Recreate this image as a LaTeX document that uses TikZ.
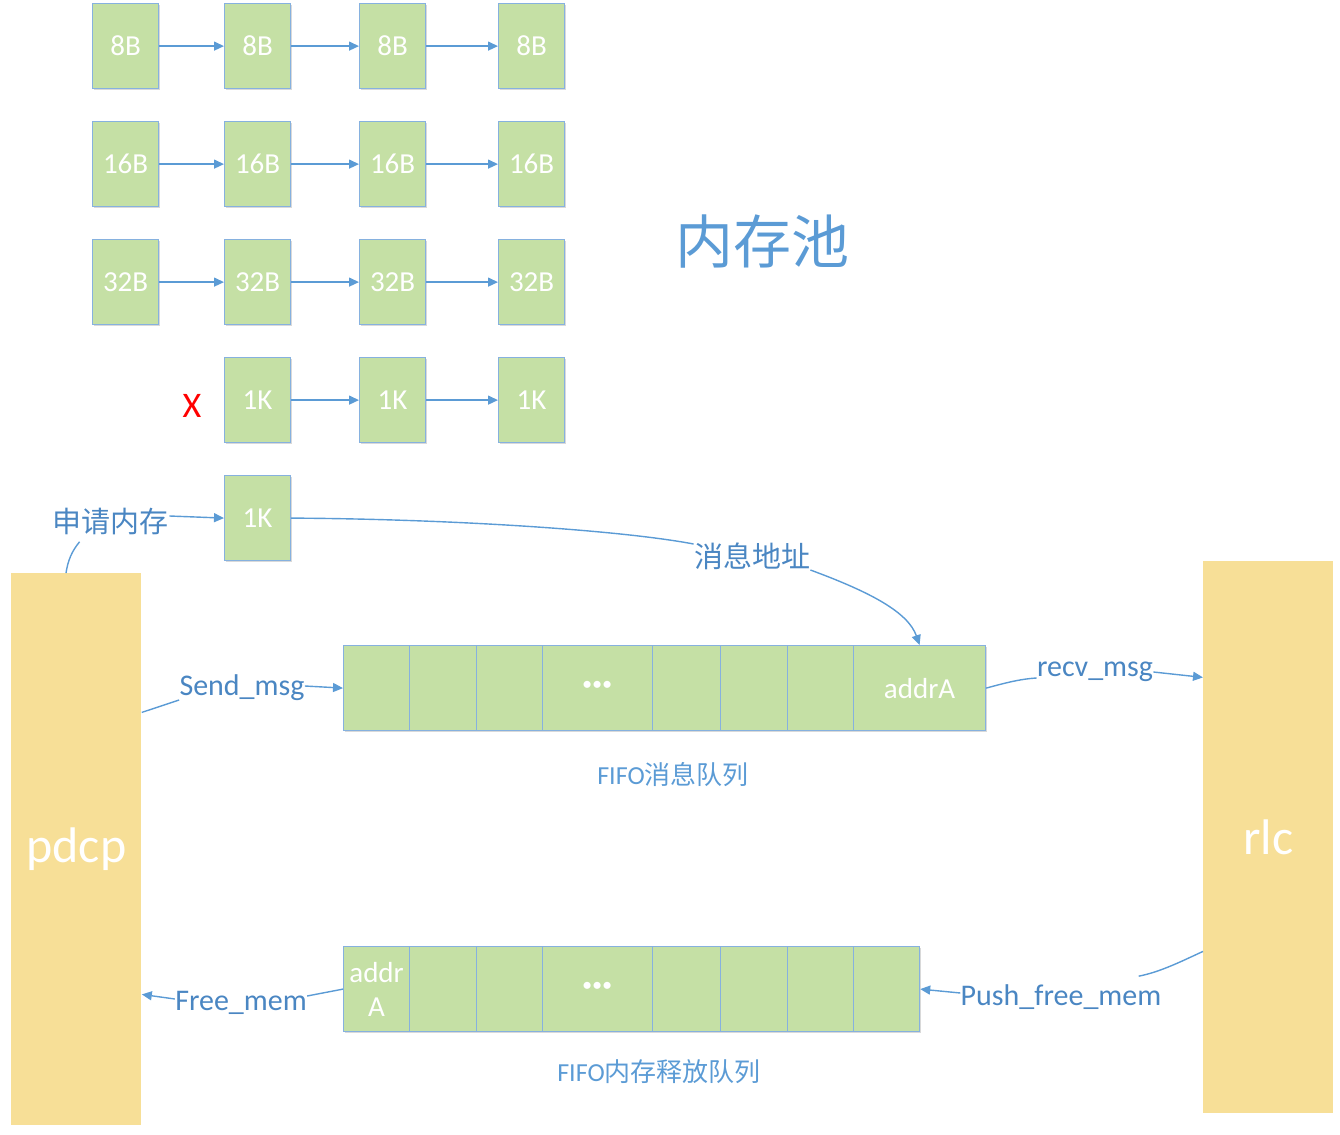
\documentclass[tikz,border=0pt]{standalone}
\usepackage{fontspec}
\setmainfont{Carlito}
\newfontfamily\cjk{Noto Sans CJK SC}
\usetikzlibrary{arrows.meta,shadows}
\definecolor{cellgreen}{HTML}{C5E0A5}
\definecolor{cellborder}{HTML}{86B1DF}
\definecolor{arrowblue}{HTML}{5B9BD5}
\definecolor{labelblue}{HTML}{4A86C2}
\definecolor{titleblue}{HTML}{5B9BD5}
\definecolor{sideyellow}{HTML}{F7DF97}
\begin{document}
\begin{tikzpicture}[x=0.5pt,y=-0.5pt,
  cell/.style={draw=cellborder, line width=0.6pt, fill=cellgreen, text=white,
    font=\fontsize{14.5}{17}\selectfont, inner sep=0pt, anchor=north west,
    minimum height=42.5pt, align=center,
    drop shadow={shadow xshift=0.8pt, shadow yshift=-0.8pt, opacity=0.15, fill=black}},
  pool/.style={cell, minimum width=33pt},
  dots/.style={font=\fontsize{19}{20}\selectfont\bfseries},
  side/.style={fill=sideyellow, text=white, inner sep=0pt, anchor=north west,
    minimum width=65pt, minimum height=276pt, font=\fontsize{25}{28}\selectfont},
  lbl/.style={text=labelblue, inner sep=0pt, font=\fontsize{15}{17}\selectfont},
  cjklbl/.style={text=labelblue, inner sep=0pt, font=\cjk\fontsize{14.5}{17}\selectfont},
  qcaption/.style={text=titleblue, inner sep=0pt, font=\fontsize{13}{15}\selectfont},
  line/.style={draw=arrowblue, line width=0.7pt},
  arr/.style={line, -{Triangle[length=5pt,width=4.5pt]}}
]
\useasboundingbox (0,0) rectangle (1340,1135);

% memory pool
\foreach \y/\t/\r in {3/8B/1, 121/16B/2, 239/32B/3} {
  \node[pool] (p\r1) at (92,\y) {\t};
  \node[pool] (p\r2) at (224,\y) {\t};
  \node[pool] (p\r3) at (359,\y) {\t};
  \node[pool] (p\r4) at (498,\y) {\t};
  \draw[arr] (p\r1) -- (p\r2);
  \draw[arr] (p\r2) -- (p\r3);
  \draw[arr] (p\r3) -- (p\r4);
}
\node[pool] (p42) at (224,357) {1K};
\node[pool] (p43) at (359,357) {1K};
\node[pool] (p44) at (498,357) {1K};
\draw[arr] (p42) -- (p43);
\draw[arr] (p43) -- (p44);
\node[text=red, inner sep=0pt, font=\fontsize{18}{20}\selectfont] (cross) at (192,406) {X};
\node[pool] (k5) at (224,475) {1K};

\node[text=titleblue, inner sep=0pt, font=\cjk\fontsize{29}{32}\selectfont] (title) at (762,242) {内存池};

% sides
\node[side] (pdcp) at (11,573) {pdcp};
\node[side] (rlc) at (1203,561) {rlc};

% FIFO message queue
\node[cell, minimum width=33pt] (fa1) at (343,645) {};
\node[cell, minimum width=33.5pt] (fa2) at (409,645) {};
\node[cell, minimum width=33pt] (fa3) at (476,645) {};
\node[cell, minimum width=55pt, dots] (fa4) at (542,645) {···};
\node[cell, minimum width=34pt] (fa5) at (652,645) {};
\node[cell, minimum width=33.5pt] (fa6) at (720,645) {};
\node[cell, minimum width=33pt] (fa7) at (787,645) {};
\node[cell, minimum width=66pt] (fa8) at (853,645) {addrA};
\node[qcaption] (capa) at (673,775) {FIFO{\cjk 消息队列}};

% FIFO free queue
\node[cell, minimum width=33pt] (fb1) at (343,946) {addr\\A};
\node[cell, minimum width=33.5pt] (fb2) at (409,946) {};
\node[cell, minimum width=33pt] (fb3) at (476,946) {};
\node[cell, minimum width=55pt, dots] (fb4) at (542,946) {···};
\node[cell, minimum width=34pt] (fb5) at (652,946) {};
\node[cell, minimum width=33.5pt] (fb6) at (720,946) {};
\node[cell, minimum width=33pt] (fb7) at (787,946) {};
\node[cell, minimum width=33pt] (fb8) at (853,946) {};
\node[qcaption] (capb) at (659,1072) {FIFO{\cjk 内存释放队列}};

% labels
\node[cjklbl] (ask) at (111,522) {申请内存};
\node[cjklbl] (addrlbl) at (752,556) {消息地址};
\node[lbl] (send) at (242,688) {Send\_msg};
\node[lbl] (recv) at (1095,672) {recv\_msg};
\node[lbl] (push) at (1061,997) {Push\_free\_mem};
\node[lbl] (free) at (241,1003) {Free\_mem};

% connectors
\draw[line] ([xshift=27.5pt]pdcp.north west) .. controls (68,560) and (72,551) .. ([xshift=13.5pt,yshift=-3pt]ask.south west);
\draw[arr] ([yshift=3pt]ask.east) -- (k5.west);

\draw[line] (k5.east) .. controls (450,519) and (620,530) .. ([yshift=6pt]addrlbl.west);
\draw[arr] ([yshift=-7pt]addrlbl.east) .. controls (870,592) and (908,612) .. (fa8.north);

\draw[line] ([yshift=68.5pt]pdcp.east) -- ([yshift=-6pt]send.west);
\draw[arr] ([yshift=1pt]send.east) -- (fa1.west);

\draw[line] (fa8.east) .. controls (1005,683) and (1020,679) .. ([yshift=-3pt]recv.west);
\draw[arr] (recv.east) -- ([yshift=80pt]rlc.west);

\draw[line] ([yshift=-57pt]rlc.west) .. controls (1180,962) and (1160,972) .. ([xshift=-11.5pt,yshift=4pt]push.north east);
\draw[arr] ([yshift=2pt]push.west) -- (fb8.east);

\draw[line] (fb1.west) -- ([yshift=3.5pt]free.east);
\draw[arr] ([yshift=2pt]free.west) -- ([yshift=-72.5pt]pdcp.east);
\end{tikzpicture}
\end{document}
